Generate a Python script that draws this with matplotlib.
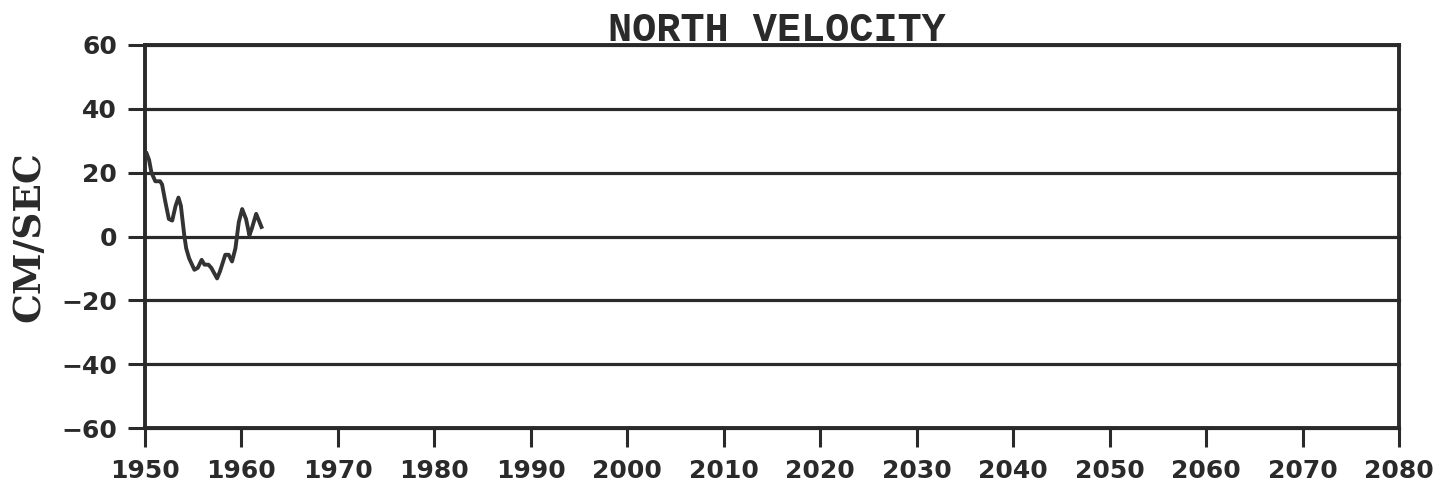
import matplotlib
matplotlib.use("Agg")
import matplotlib.pyplot as plt

years = [1950.2, 1950.45, 1950.7, 1951.1, 1951.6, 1951.8, 1952.15, 1952.5, 1952.85,
         1953.2, 1953.5, 1953.75, 1954.1, 1954.3, 1954.6, 1955.15, 1955.5, 1955.9,
         1956.2, 1956.6, 1956.9, 1957.5, 1957.8, 1958.35, 1958.7, 1959.05, 1959.4,
         1959.75, 1960.1, 1960.5, 1960.85, 1961.1, 1961.55, 1961.9, 1962.1]
velocity = [26, 24, 20, 17.3, 17.3, 16.3, 10.7, 5.5, 5, 9.6, 12.2, 9.6, 0.4, -3.7,
            -6.8, -10.4, -9.8, -7.3, -8.8, -8.8, -9.8, -13.1, -10.9, -5.7, -5.7,
            -7.8, -3.7, 4.5, 8.6, 5.5, 0.4, 2.5, 7.1, 4.5, 3]

xticks = list(range(1950, 2081, 10))
yticks = [-60, -40, -20, 0, 20, 40, 60]
title = "NORTH VELOCITY"
ylabel = "CM/SEC"

ink = "#2a2a2a"
fig = plt.figure(figsize=(14.47, 4.98), dpi=100)
ax = fig.add_axes([0.100, 0.140, 0.867, 0.770])
ax.plot(years, velocity, color="#333333", lw=2.8, zorder=3)
for v in yticks:
    ax.axhline(v, color=ink, lw=2.3, zorder=2, clip_on=False)
ax.set_xlim(1950, 2080)
ax.set_ylim(-60, 60)
ax.set_xticks(xticks)
ax.set_yticks(yticks)
ax.set_yticklabels([f"\u2212{abs(v)}" if v < 0 else str(v) for v in yticks])
for s in ax.spines.values():
    s.set_color(ink)
    s.set_linewidth(2.8)
ax.tick_params(axis="x", direction="out", length=14, width=2.2, color=ink, pad=8,
               labelsize=18, labelcolor=ink)
ax.tick_params(axis="y", direction="out", length=12, width=2.2, color=ink, pad=8,
               labelsize=18, labelcolor=ink)
for lab in ax.get_xticklabels() + ax.get_yticklabels():
    lab.set_fontweight("bold")
    lab.set_family("DejaVu Sans")
ax.set_ylabel(ylabel, fontsize=27, fontweight="bold", family="DejaVu Serif",
              color=ink, labelpad=10)
fig.text(0.537, 0.940, title, ha="center", va="center", fontsize=29,
         family="Liberation Mono", fontweight="bold", color=ink)
fig.savefig("out.png", dpi=100, facecolor="white")
